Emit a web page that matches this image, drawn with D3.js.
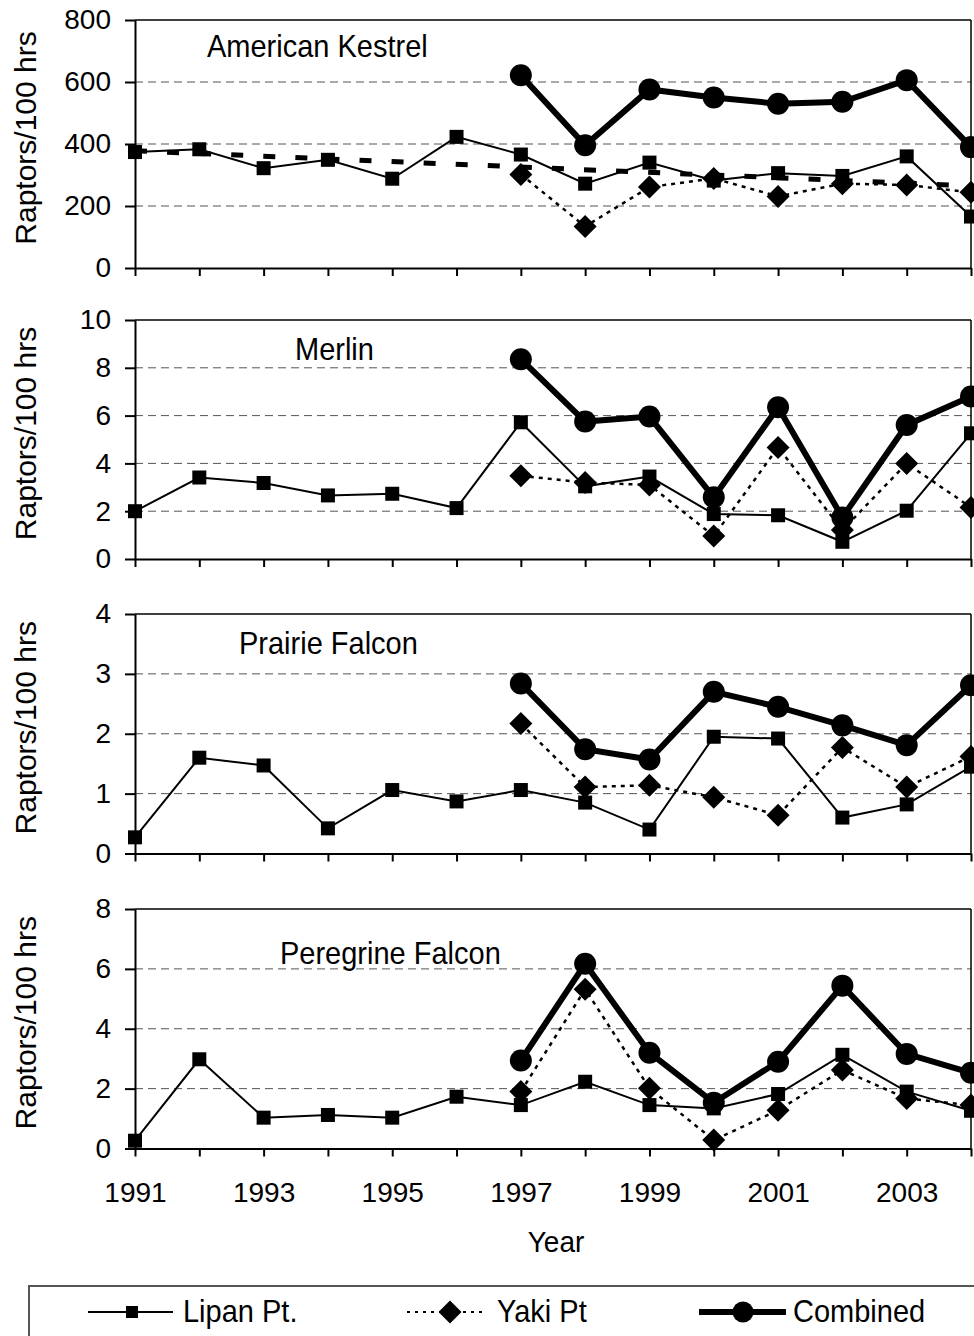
<!DOCTYPE html>
<html>
<head>
<meta charset="utf-8">
<script src="https://cdn.jsdelivr.net/npm/d3@7"></script>
<style>
  body { margin: 0; background: #fff; }
  svg { display: block; font-family: "Liberation Sans", Arial, sans-serif; }
</style>
</head>
<body>
<div id="chart"></div>
<script>
// Years on the x axis, and the years the Yaki Pt / Combined counts exist
const years = [1991, 1992, 1993, 1994, 1995, 1996, 1997, 1998, 1999, 2000, 2001, 2002, 2003, 2004];
const siteYears = [1997, 1998, 1999, 2000, 2001, 2002, 2003, 2004];
const xTickLabels = [1991, 1993, 1995, 1997, 1999, 2001, 2003];

// American Kestrel
const kestrelLipan = [374, 383, 322, 349, 288, 423, 366, 272, 340, 282, 306, 297, 360, 166];
const kestrelYaki = [302, 134, 261, 289, 231, 272, 268, 244];
const kestrelCombined = [622, 396, 576, 550, 530, 536, 606, 390];
const kestrelTrend = [378, 265]; // Lipan Pt. trend line at 1991 and 2004
const kestrelTicks = [0, 200, 400, 600, 800];

// Merlin
const merlinLipan = [2.0, 3.41, 3.18, 2.66, 2.73, 2.13, 5.72, 3.04, 3.45, 1.88, 1.83, 0.72, 2.02, 5.26];
const merlinYaki = [3.48, 3.2, 3.1, 0.96, 4.67, 1.21, 4.0, 2.16];
const merlinCombined = [8.36, 5.75, 5.96, 2.58, 6.35, 1.74, 5.61, 6.8];
const merlinTicks = [0, 2, 4, 6, 8, 10];

// Prairie Falcon
const prairieLipan = [0.27, 1.6, 1.47, 0.42, 1.06, 0.87, 1.06, 0.85, 0.4, 1.95, 1.92, 0.6, 0.82, 1.45];
const prairieYaki = [2.17, 1.11, 1.14, 0.94, 0.64, 1.77, 1.11, 1.62];
const prairieCombined = [2.84, 1.74, 1.57, 2.7, 2.45, 2.14, 1.81, 2.81];
const prairieTicks = [0, 1, 2, 3, 4];

// Peregrine Falcon
const peregrineLipan = [0.26, 2.98, 1.03, 1.12, 1.03, 1.73, 1.45, 2.23, 1.45, 1.34, 1.82, 3.13, 1.9, 1.26];
const peregrineYaki = [1.9, 5.32, 2.01, 0.28, 1.28, 2.62, 1.67, 1.45];
const peregrineCombined = [2.94, 6.17, 3.2, 1.53, 2.9, 5.44, 3.16, 2.53];
const peregrineTicks = [0, 2, 4, 6, 8];

const panels = [
  { name: "American Kestrel", lipan: kestrelLipan, yaki: kestrelYaki, combined: kestrelCombined,
    ticks: kestrelTicks, trend: kestrelTrend, top: 20, bottom: 268, titleX: 207, titleY: 57 },
  { name: "Merlin", lipan: merlinLipan, yaki: merlinYaki, combined: merlinCombined,
    ticks: merlinTicks, top: 320, bottom: 559, titleX: 295, titleY: 360 },
  { name: "Prairie Falcon", lipan: prairieLipan, yaki: prairieYaki, combined: prairieCombined,
    ticks: prairieTicks, top: 614, bottom: 853.5, titleX: 239, titleY: 654 },
  { name: "Peregrine Falcon", lipan: peregrineLipan, yaki: peregrineYaki, combined: peregrineCombined,
    ticks: peregrineTicks, top: 909, bottom: 1148.5, titleX: 280, titleY: 964 }
];

const W = 974, H = 1336;
const left = 135, right = 971;
const stretch = 1.08; // the source text is a little taller than plain Arial

const svg = d3.select("#chart")
  .append("svg")
    .attr("width", W)
    .attr("height", H);

const x = d3.scaleLinear()
    .domain([years[0], years[years.length - 1]])
    .range([left, right]);

const diamond = r => `M0,${-r}L${r},0L0,${r}L${-r},0Z`;

// plain horizontal label, slightly stretched vertically
function label(parent, tx, ty, str, size, anchor) {
  return parent.append("text")
      .attr("transform", `translate(${tx},${ty}) scale(1,${stretch})`)
      .attr("text-anchor", anchor || "start")
      .style("font-size", size + "px")
      .text(str);
}

panels.forEach((p, i) => {
  const y = d3.scaleLinear()
      .domain([0, d3.max(p.ticks)])
      .range([p.bottom, p.top]);

  const g = svg.append("g");

  // dashed gridlines
  g.selectAll(".grid")
    .data(p.ticks.slice(1, -1))
    .join("line")
      .attr("x1", left).attr("x2", right)
      .attr("y1", d => y(d)).attr("y2", d => y(d))
      .attr("stroke", "#555")
      .attr("stroke-width", 1)
      .attr("stroke-dasharray", "8,5");

  // top and right frame
  g.append("line")
      .attr("x1", left).attr("x2", right)
      .attr("y1", p.top).attr("y2", p.top)
      .attr("stroke", "#000").attr("stroke-width", 1.5);
  g.append("line")
      .attr("x1", right).attr("x2", right)
      .attr("y1", p.top).attr("y2", p.bottom)
      .attr("stroke", "#000").attr("stroke-width", 1.5);

  // axes
  const yAxis = g.append("g")
      .attr("transform", `translate(${left},0)`)
      .call(d3.axisLeft(y).tickValues(p.ticks).tickSizeInner(10).tickSizeOuter(0).tickPadding(14)
        .tickFormat(d => d));

  const xAxis = g.append("g")
      .attr("transform", `translate(0,${p.bottom})`)
      .call(d3.axisBottom(x).tickValues(years).tickSizeInner(8).tickSizeOuter(0).tickPadding(26)
        .tickFormat(d => (i === panels.length - 1 && xTickLabels.includes(d)) ? d : ""));

  [yAxis, xAxis].forEach(a => {
    a.selectAll("path, line").attr("stroke", "#000").attr("stroke-width", 2);
    a.selectAll("text").attr("fill", "#000").style("font-size", "28px")
      .style("font-family", "'Liberation Sans', Arial, sans-serif");
  });

  // y label
  g.append("text")
      .attr("transform", `translate(36,${(p.top + p.bottom) / 2 - 6}) rotate(-90)`)
      .attr("text-anchor", "middle")
      .style("font-size", "30px")
      .text("Raptors/100 hrs");

  // panel title
  label(g, p.titleX, p.titleY, p.name, 29);

  const line = d3.line().x(d => x(d[0])).y(d => y(d[1]));
  const lipan = years.map((yr, k) => [yr, p.lipan[k]]);
  const yaki = siteYears.map((yr, k) => [yr, p.yaki[k]]);
  const combined = siteYears.map((yr, k) => [yr, p.combined[k]]);

  // Lipan Pt.
  g.append("path")
      .datum(lipan)
      .attr("d", line)
      .attr("fill", "none").attr("stroke", "#000").attr("stroke-width", 2);
  g.selectAll(".sq")
    .data(lipan)
    .join("rect")
      .attr("x", d => x(d[0]) - 7).attr("y", d => y(d[1]) - 7)
      .attr("width", 14).attr("height", 14)
      .attr("fill", "#000");

  // Yaki Pt
  g.append("path")
      .datum(yaki)
      .attr("d", line)
      .attr("fill", "none").attr("stroke", "#000").attr("stroke-width", 2.5)
      .attr("stroke-dasharray", "4,5");
  g.selectAll(".dm")
    .data(yaki)
    .join("path")
      .attr("transform", d => `translate(${x(d[0])},${y(d[1])})`)
      .attr("d", diamond(11.5))
      .attr("fill", "#000");

  // Combined
  g.append("path")
      .datum(combined)
      .attr("d", line)
      .attr("fill", "none").attr("stroke", "#000").attr("stroke-width", 6);
  g.selectAll(".ci")
    .data(combined)
    .join("circle")
      .attr("cx", d => x(d[0])).attr("cy", d => y(d[1]))
      .attr("r", 11)
      .attr("fill", "#000");

  // trend line (kestrel only)
  if (p.trend) {
    g.append("path")
        .datum([[years[0], p.trend[0]], [years[years.length - 1], p.trend[1]]])
        .attr("d", line)
        .attr("fill", "none").attr("stroke", "#000").attr("stroke-width", 5)
        .attr("stroke-dasharray", "12,20.1");
  }
});

// x label
label(svg, 556, 1252, "Year", 28, "middle");

// legend
const legend = svg.append("g");
legend.append("rect")
    .attr("x", 29).attr("y", 1286)
    .attr("width", 1000).attr("height", 100)
    .attr("fill", "none").attr("stroke", "#555").attr("stroke-width", 2);

const ly = 1312;
legend.append("line").attr("x1", 88).attr("x2", 173).attr("y1", ly).attr("y2", ly)
    .attr("stroke", "#000").attr("stroke-width", 2);
legend.append("rect").attr("x", 126).attr("y", ly - 6).attr("width", 12).attr("height", 12).attr("fill", "#000");
label(legend, 183, 1322, "Lipan Pt.", 29);

legend.append("line").attr("x1", 407).attr("x2", 483).attr("y1", ly).attr("y2", ly)
    .attr("stroke", "#000").attr("stroke-width", 2).attr("stroke-dasharray", "3,5");
legend.append("path").attr("transform", `translate(450,${ly})`).attr("d", diamond(11.5)).attr("fill", "#000");
label(legend, 497, 1322, "Yaki Pt", 29);

legend.append("line").attr("x1", 699).attr("x2", 786).attr("y1", ly).attr("y2", ly)
    .attr("stroke", "#000").attr("stroke-width", 6);
legend.append("circle").attr("cx", 743).attr("cy", ly).attr("r", 10.5).attr("fill", "#000");
label(legend, 793, 1322, "Combined", 29);
</script>
</body>
</html>
